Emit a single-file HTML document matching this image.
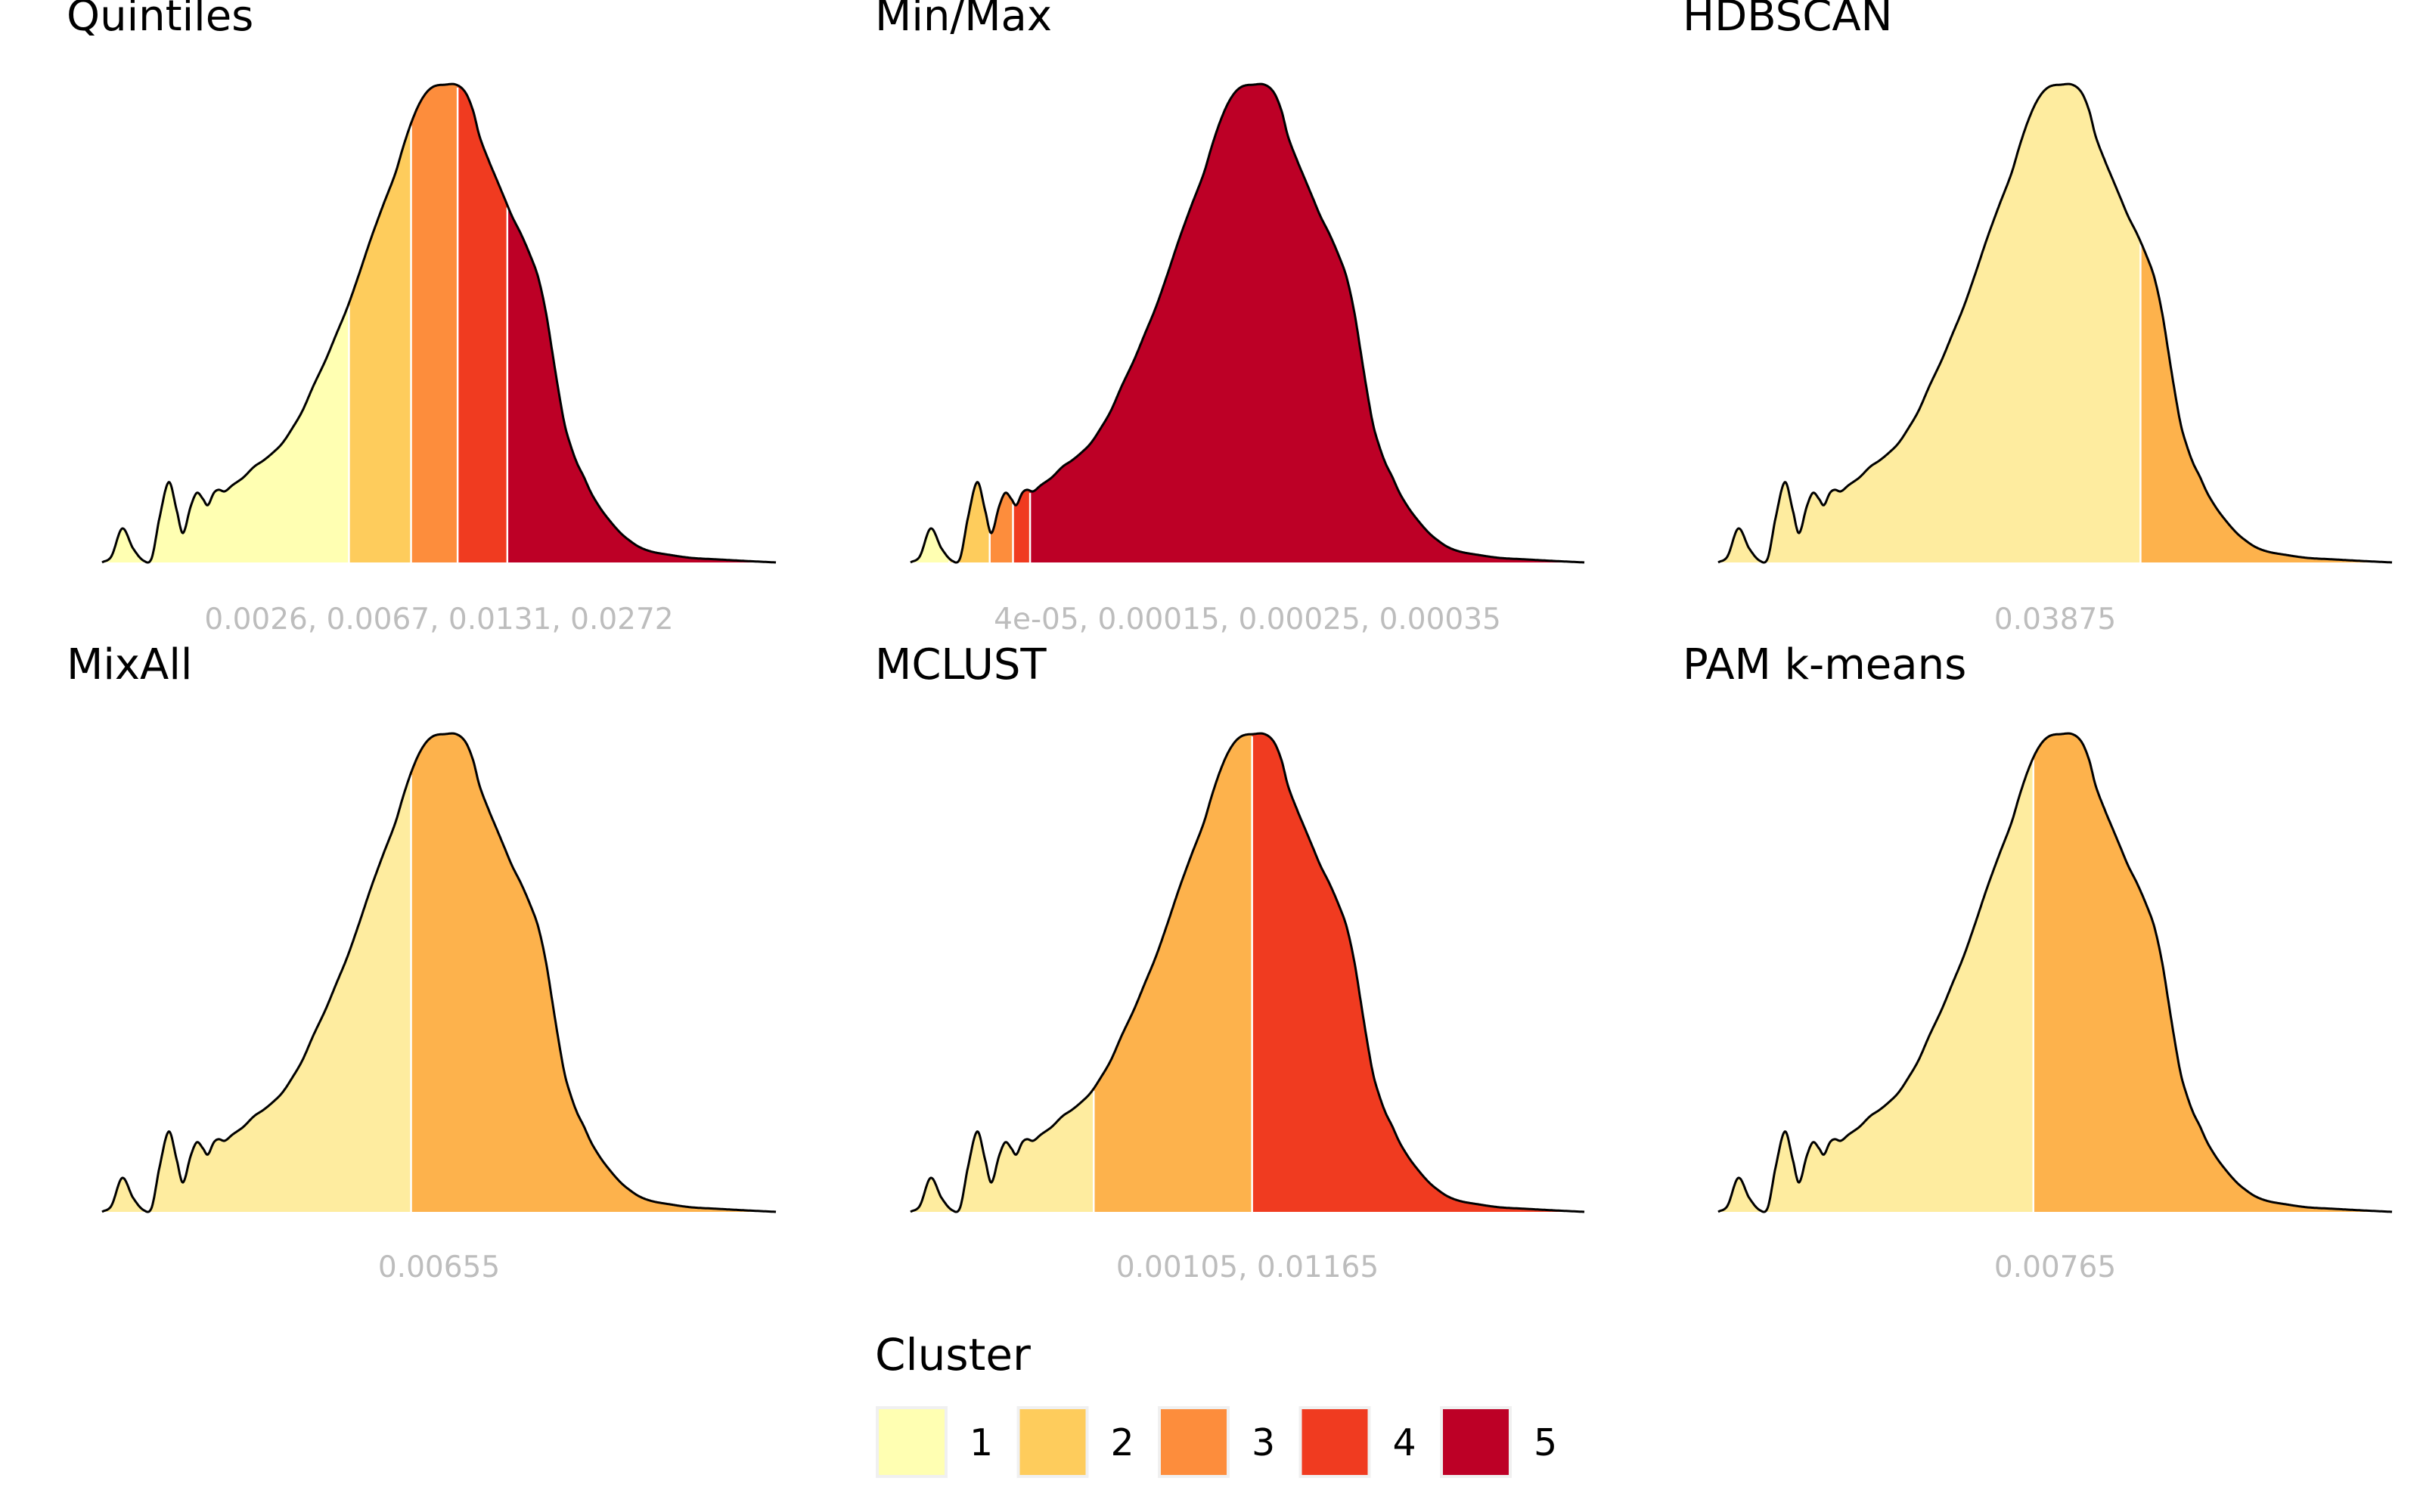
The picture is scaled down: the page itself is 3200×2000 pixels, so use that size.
<!DOCTYPE html>
<html><head><meta charset="utf-8"><style>
html,body{margin:0;padding:0;background:#fff;}
svg{display:block;}
text{font-family:"DejaVu Sans","Liberation Sans",sans-serif;}
</style></head><body>
<svg id="chart" width="3200" height="2000" viewBox="0 0 3200 2000" xmlns="http://www.w3.org/2000/svg">
<g id="panels"></g>
<g id="legend">
  <text x="1157" y="1812" font-size="58" fill="#000">Cluster</text>
</g>
</svg>
<script>
// density curve: x in data units (0..434), y density (pixel-read, 0..309)
const curveX = [0,6,13,20,27,32,37,43,48,52,57,61,65,68,72,75,79,84,91,98,104,110,116,122,129,136,144,151,158,165,173,181,189,194,199,204,209,214,221,228,234,239,243,249,254,259,264,270,276,281,286,290,294,298,302,306,310,315,321,327,334,340,346,354,365,379,396,414,434];
const curveY = [0,4,22,9,1,3,29,52,34,19,36,45,41,37,45,47,46,50,55,62,66,71,77,86,98,114,131,148,165,185,209,231,252,269,284,296,304,308,309,309,304,292,276,260,248,236,224,212,198,184,161,136,111,89,75,64,56,45,35,27,19,14,10,7,5,3,2,1,0];
const panelTitles = ["Quintiles","Min/Max","HDBSCAN","MixAll","MCLUST","PAM k-means"];
const panelCuts = [[159,199,229,261],[25,51,66,77],[272],[199],[118,220],[203]];
const panelLabels = ["0.0026, 0.0067, 0.0131, 0.0272","4e-05, 0.00015, 0.00025, 0.00035","0.03875","0.00655","0.00105, 0.01165","0.00765"];
const palette5 = ["#FFFFB2","#FECC5C","#FD8D3C","#F03B20","#BD0026"];
const paletteFor = {2:["#FEEC9F","#FDB24C"],3:["#FEEC9F","#FDB24C","#F03B20"]};
const legendItems = ["1","2","3","4","5"];

const NS="http://www.w3.org/2000/svg";
const XMAX=434, YMAX=309;
const colX=[135,1204,2272], colW=891;
const rowBase=[744,1603], rowH=632;
function mk(tag,attrs,parent){const e=document.createElementNS(NS,tag);for(const k in attrs)e.setAttribute(k,attrs[k]);parent.appendChild(e);return e;}
const N=curveX.length;
function slope(i){
  if(i<=0) return (curveY[1]-curveY[0])/(curveX[1]-curveX[0]);
  if(i>=N-1) return (curveY[N-1]-curveY[N-2])/(curveX[N-1]-curveX[N-2]);
  return (curveY[i+1]-curveY[i-1])/(curveX[i+1]-curveX[i-1]);
}
function interp(u){
  for(let i=1;i<N;i++){
    if(u<=curveX[i]){
      const h=curveX[i]-curveX[i-1], t=(u-curveX[i-1])/h;
      const y0=curveY[i-1], y1=curveY[i], m0=slope(i-1)*h, m1=slope(i)*h;
      const t2=t*t,t3=t2*t;
      const v=(2*t3-3*t2+1)*y0+(t3-2*t2+t)*m0+(-2*t3+3*t2)*y1+(t3-t2)*m1;
      return Math.max(0,v);
    }
  }
  return curveY[N-1];
}
const panelsG=document.getElementById('panels');
panelTitles.forEach((title,p)=>{
  const c=p%3, r=Math.floor(p/3);
  const sx=u=>colX[c]+u/XMAX*colW;
  const sy=d=>rowBase[r]-d/YMAX*rowH;
  const g=mk('g',{},panelsG);
  
  
  const cuts=panelCuts[p];
  const n=cuts.length+1;
  const pal=n===5?palette5:paletteFor[n];
  const bounds=[0,...cuts,XMAX];
  for(let s=0;s<n;s++){
    const a=bounds[s], b=bounds[s+1];
    let pts=[[sx(a),sy(0)]];
    for(let u=a;u<b;u+=0.5) pts.push([sx(u),sy(interp(u))]);
    pts.push([sx(b),sy(interp(b))],[sx(b),sy(0)]);
    const poly=mk('polygon',{points:pts.map(q=>q[0].toFixed(1)+','+q[1].toFixed(1)).join(' '),fill:pal[s]},g);
    
    
  }
  cuts.forEach(u=>{
    const l=mk('line',{x1:sx(u),x2:sx(u),y1:sy(0),y2:sy(interp(u))+3,stroke:'#fff','stroke-width':2.5},g);
    
    
  });
  let d='';
  for(let u=0;u<=XMAX;u+=0.5) d+=(u?'L':'M')+sx(u).toFixed(1)+','+sy(interp(u)).toFixed(1);
  const path=mk('path',{d:d,fill:'none',stroke:'#000','stroke-width':3,'stroke-linejoin':'round'},g);
  
  
  const t=mk('text',{x:colX[c]-47,y:r?898:40,'font-size':56,fill:'#000'},g);
  t.textContent=title;
  
  
  const lb=mk('text',{x:colX[c]+colW/2,y:r?1689:832,'font-size':39,fill:'#bdbdbd','text-anchor':'middle'},g);
  lb.textContent=panelLabels[p];
  
  
});
const lg=document.getElementById('legend');
legendItems.forEach((k,i)=>{
  const x=1160+i*186.5;
  const rct=mk('rect',{x:x,y:1862,width:91,height:91,fill:palette5[i],stroke:'#f0f0f0','stroke-width':4},lg);
  
  
  const tx=mk('text',{x:x+122,y:1925,'font-size':49,fill:'#000'},lg);
  tx.textContent=k;
  
  
});
</script>
</body></html>
